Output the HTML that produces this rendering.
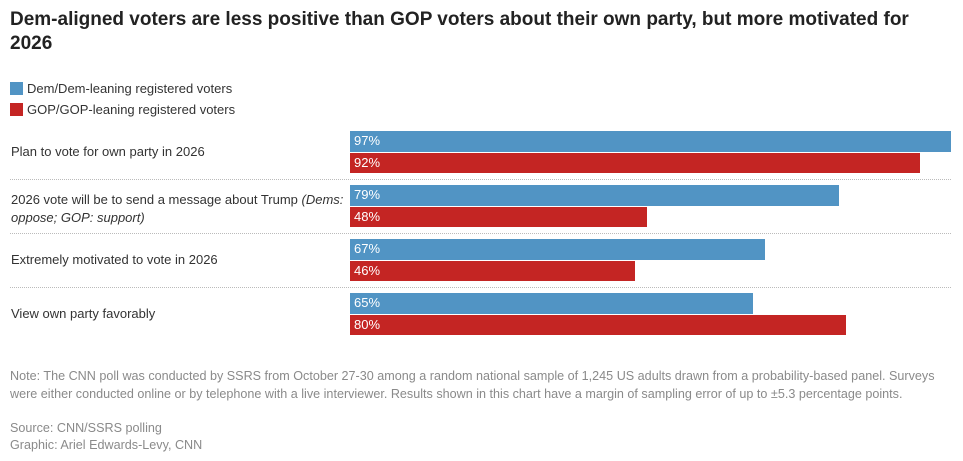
<!DOCTYPE html>
<html><head><meta charset="utf-8"><style>
body{margin:0;width:963px;height:461px;background:#fff;font-family:"Liberation Sans",sans-serif;color:#262626;overflow:hidden;position:relative}
.t{position:absolute;left:10px;top:8px;width:940px;font-size:19px;font-weight:bold;line-height:24px;color:#222}
.lg{position:absolute;left:10px;font-size:13px;color:#333}
.lg span{display:inline-block;width:13px;height:13px;vertical-align:-2px;margin-right:4px}
.lab{position:absolute;left:11px;font-size:13px;line-height:18px;color:#333;width:335px}
.sep{position:absolute;left:10px;width:941px;border-top:1px dotted #bbb;height:0}
.note{position:absolute;left:10px;font-size:12.6px;line-height:17.5px;color:#8a8a8a;width:935px}
</style></head><body>
<div class="t">Dem-aligned voters are less positive than GOP voters about their own party, but more motivated for 2026</div>
<div class="lg" style="top:81px"><span style="background:#5194c4"></span>Dem/Dem-leaning registered voters</div>
<div class="lg" style="top:102px"><span style="background:#c42523"></span>GOP/GOP-leaning registered voters</div>
<div id="chart"></div>
<div class="note" style="top:368px">Note: The CNN poll was conducted by SSRS from October 27-30 among a random national sample of 1,245 US adults drawn from a probability-based panel. Surveys were either conducted online or by telephone with a live interviewer. Results shown in this chart have a margin of sampling error of up to ±5.3 percentage points.</div>
<div class="note" style="top:420px">Source: CNN/SSRS polling</div>
<div class="note" style="top:437px">Graphic: Ariel Edwards-Levy, CNN</div>
<script>
const categories=["Plan to vote for own party in 2026","2026 vote will be to send a message about Trump <i>(Dems: oppose; GOP: support)</i>","Extremely motivated to vote in 2026","View own party favorably"];
const demValues=[97,79,67,65];
const gopValues=[92,48,46,80];
const x0=350,scale=6.196,top0=131,pitch=54,bh=20.5;
function xw(v){return v*scale;}
const c=document.getElementById('chart');
categories.forEach((cat,i)=>{
  const y=top0+i*pitch;
  const l=document.createElement('div');l.className='lab';
  
  
  l.innerHTML=cat;l.style.top=(i==1?y+6:y+12)+'px';c.appendChild(l);
  [[demValues[i],'#5194c4',y,'dem'],[gopValues[i],'#c42523',y+bh+1,'gop']].forEach(([v,col,yy,s])=>{
    const b=document.createElement('div');
    
    
    b.style.cssText=`position:absolute;left:${x0}px;top:${yy}px;width:${xw(v)}px;height:${bh}px;background:${col};color:#fff;font-size:13px;line-height:${bh}px;box-sizing:border-box;padding-left:4px`;
    b.textContent=v+'%';c.appendChild(b);
  });
  if(i<categories.length-1){const s=document.createElement('div');s.className='sep';
    
    
    s.style.top=(y+48)+'px';c.appendChild(s);}
});
</script>
</body></html>
